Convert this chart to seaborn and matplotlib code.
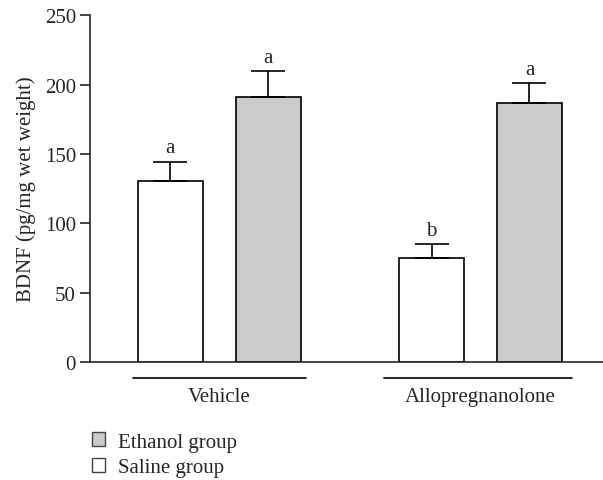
import numpy as np
import pandas as pd
import matplotlib
matplotlib.use('Agg')
import matplotlib.pyplot as plt
import matplotlib.transforms as mtransforms
from matplotlib.patches import Patch
import seaborn as sns

# Data
treatments = ['Vehicle', 'Allopregnanolone']
groups = ['Saline group', 'Ethanol group']
saline_mean = [130.5, 75]
ethanol_mean = [191, 186.5]
saline_sem = [14, 10]
ethanol_sem = [18.5, 14.5]
saline_letters = ['a', 'b']
ethanol_letters = ['a', 'a']

df = pd.DataFrame({
    'treatment': treatments * 2,
    'group': [groups[0]] * 2 + [groups[1]] * 2,
    'bdnf': saline_mean + ethanol_mean,
    'sem': saline_sem + ethanol_sem,
    'letter': saline_letters + ethanol_letters,
})

sns.set_style('ticks')
plt.rcParams['font.family'] = ['Liberation Serif', 'DejaVu Serif']
fs = 15

fig = plt.figure(figsize=(6.03, 4.81), dpi=100)
ax = fig.add_axes([0.149, 0.245, 0.851, 0.7214])

palette = {'Saline group': 'white', 'Ethanol group': '#cbcbcb'}
sns.barplot(data=df, x='treatment', y='bdnf', hue='group', order=treatments,
            hue_order=groups, palette=palette, width=0.75, gap=0.337,
            edgecolor='black', linewidth=1.2, errorbar=None, legend=False, ax=ax)

# upward-only error bars and significance letters
for patch, (_, row) in zip(ax.patches, df.iterrows()):
    xc = patch.get_x() + patch.get_width() / 2
    top = patch.get_height()
    ax.errorbar(xc, top, yerr=[[0], [row['sem']]], fmt='none', ecolor='black',
                elinewidth=1.2, capsize=12, capthick=1.2)
    ax.text(xc, top + row['sem'] + 3, row['letter'], ha='center', va='bottom', fontsize=fs)

ax.set_ylim(0, 250)
ax.set_yticks([0, 50, 100, 150, 200, 250])
ax.set_xlim(-0.496, 1.469)
ax.set_xlabel('')
ax.set_ylabel('BDNF (pg/mg wet weight)', fontsize=fs, labelpad=6)
ax.tick_params(axis='x', length=0, pad=18, labelsize=fs)
ax.tick_params(axis='y', length=7, width=1.2, pad=3, labelsize=fs)
sns.despine(ax=ax)
ax.spines['left'].set_linewidth(1.2)
ax.spines['bottom'].set_linewidth(1.2)

# group underlines below the axis
trans = mtransforms.blended_transform_factory(ax.transData, ax.transAxes)
line_spans = [(-0.33, 0.33), (-0.37, 0.35)]
for i, (lo, hi) in enumerate(line_spans):
    ax.plot([i + lo, i + hi], [-0.046, -0.046], color='black', lw=1.2,
            transform=trans, clip_on=False)

handles = [Patch(facecolor=palette['Ethanol group'], edgecolor='#444444', label='Ethanol group'),
           Patch(facecolor=palette['Saline group'], edgecolor='#444444', label='Saline group')]
fig.legend(handles=handles, loc='lower left', bbox_to_anchor=(0.121, -0.033), frameon=False,
           handlelength=0.65, handleheight=0.65, handletextpad=0.6, labelspacing=0.3,
           fontsize=fs)

fig.savefig('out.png', dpi=100)
